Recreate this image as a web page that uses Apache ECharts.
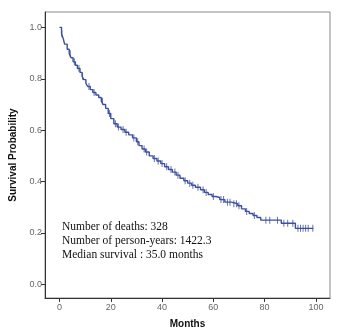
<!DOCTYPE html>
<html><head><meta charset="utf-8">
<script src="https://cdn.jsdelivr.net/npm/echarts@6/dist/echarts.min.js"></script>
<style>html,body{margin:0;padding:0;background:#fff}#c{width:347px;height:336px}</style>
</head><body><div id="c"></div>
<script>
// Kaplan-Meier step points (months, survival probability)
var times = [0, 0.8, 1.5, 2.0, 3.0, 3.8, 4.5, 5.3, 6.2, 7.0, 8.0, 8.8, 9.5, 10.3, 11.0, 12.0, 13.0, 14.2, 15.3, 16.3, 17.0, 18.0, 19.0, 20.0, 21.2, 22.5, 24.0, 25.5, 27.0, 28.5, 30.0, 31.0, 32.2, 33.5, 35.0, 36.5, 38.0, 39.5, 41.0, 42.5, 44.0, 45.5, 47.0, 48.5, 50.0, 51.5, 53.0, 55.0, 56.5, 58.0, 59.5, 61.0, 62.5, 64.5, 67.0, 69.5, 71.0, 72.5, 74.0, 75.5, 77.0, 78.5, 86.5, 92.0, 99.0];
var surv = [1.0, 0.975, 0.955, 0.935, 0.915, 0.898, 0.882, 0.866, 0.853, 0.840, 0.825, 0.810, 0.797, 0.782, 0.770, 0.758, 0.747, 0.737, 0.727, 0.713, 0.700, 0.685, 0.665, 0.645, 0.625, 0.612, 0.603, 0.592, 0.582, 0.570, 0.555, 0.540, 0.527, 0.515, 0.500, 0.490, 0.480, 0.470, 0.458, 0.447, 0.437, 0.425, 0.413, 0.403, 0.394, 0.386, 0.378, 0.368, 0.358, 0.350, 0.342, 0.338, 0.330, 0.320, 0.314, 0.306, 0.294, 0.284, 0.276, 0.268, 0.260, 0.250, 0.238, 0.218, 0.218];
// Censored observation times (months)
var censorTimes = [0.9, 4.2, 5.8, 7.6, 9.0, 11.5, 13.5, 16.8, 19.5, 21.8, 23.0, 24.8, 26.0, 29.0, 30.5, 33.0, 34.0, 37.0, 38.5, 40.0, 41.8, 43.5, 45.0, 46.2, 49.0, 50.8, 52.0, 54.0, 56.0, 57.2, 60.0, 63.0, 64.0, 65.5, 66.5, 68.0, 69.0, 70.0, 73.0, 76.0, 80.5, 82.0, 85.0, 87.5, 89.0, 91.0, 93.0, 94.0, 95.0, 96.0, 97.0, 98.8];
var xTicks = [0, 20, 40, 60, 80, 100];
var yTicks = [0.0, 0.2, 0.4, 0.6, 0.8, 1.0];
var annotation = ['Number of deaths: 328', 'Number of person-years: 1422.3', 'Median survival : 35.0 months'];
var xTitle = 'Months';
var yTitle = 'Survival Probability';

function survAt(t) {
  var s = surv[0];
  for (var i = 0; i < times.length; i++) { if (times[i] <= t) s = surv[i]; else break; }
  return s;
}
var lineData = times.map(function (t, i) { return [t, surv[i]]; });
var censorData = censorTimes.map(function (t) { return [t, survAt(t)]; });

var blue = '#3d4f9f';
var chart = echarts.init(document.getElementById('c'), null, {renderer: 'canvas'});
chart.setOption({
  animation: false,
  backgroundColor: '#fff',
  grid: {left: 45, right: 17, top: 12, bottom: 38, show: true, borderColor: '#8a8a8a', borderWidth: 1, backgroundColor: 'transparent'},
  xAxis: {
    type: 'value', min: -5.65, max: 105.5,
    name: xTitle, nameLocation: 'middle', nameGap: 21,
    nameTextStyle: {fontFamily: 'Liberation Sans', fontWeight: 'bold', fontSize: 10, color: '#111'},
    axisLine: {show: true, onZero: false, lineStyle: {color: '#333', width: 1}},
    axisTick: {show: true, length: 4, lineStyle: {color: '#333'}, customValues: xTicks},
    axisLabel: {customValues: xTicks, fontFamily: 'Liberation Sans', fontSize: 9, color: '#666', margin: 5, formatter: function (v) { return String(v); }},
    splitLine: {show: false}
  },
  yAxis: {
    type: 'value', min: -0.053, max: 1.06,
    name: yTitle, nameLocation: 'middle', nameGap: 21,
    nameTextStyle: {fontFamily: 'Liberation Sans', fontWeight: 'bold', fontSize: 10, color: '#111'},
    axisLine: {show: true, onZero: false, lineStyle: {color: '#333', width: 1}},
    axisTick: {show: true, length: 4, lineStyle: {color: '#333'}, customValues: yTicks},
    axisLabel: {customValues: yTicks, fontFamily: 'Liberation Sans', fontSize: 9, color: '#666', margin: 3, formatter: function (v) { return v.toFixed(1); }},
    splitLine: {show: false}
  },
  series: [
    {type: 'line', step: 'end', data: lineData, showSymbol: false, lineStyle: {color: blue, width: 1.4}, z: 2},
    {type: 'scatter', data: censorData, symbol: 'rect', symbolSize: [1, 7], itemStyle: {color: blue}, z: 3}
  ],
  graphic: annotation.map(function (s, i) {
    return {type: 'text', left: 62, top: 221 + i * 14, style: {text: s, font: '11.5px "Liberation Serif"', fill: '#111'}};
  })
});
</script></body></html>
